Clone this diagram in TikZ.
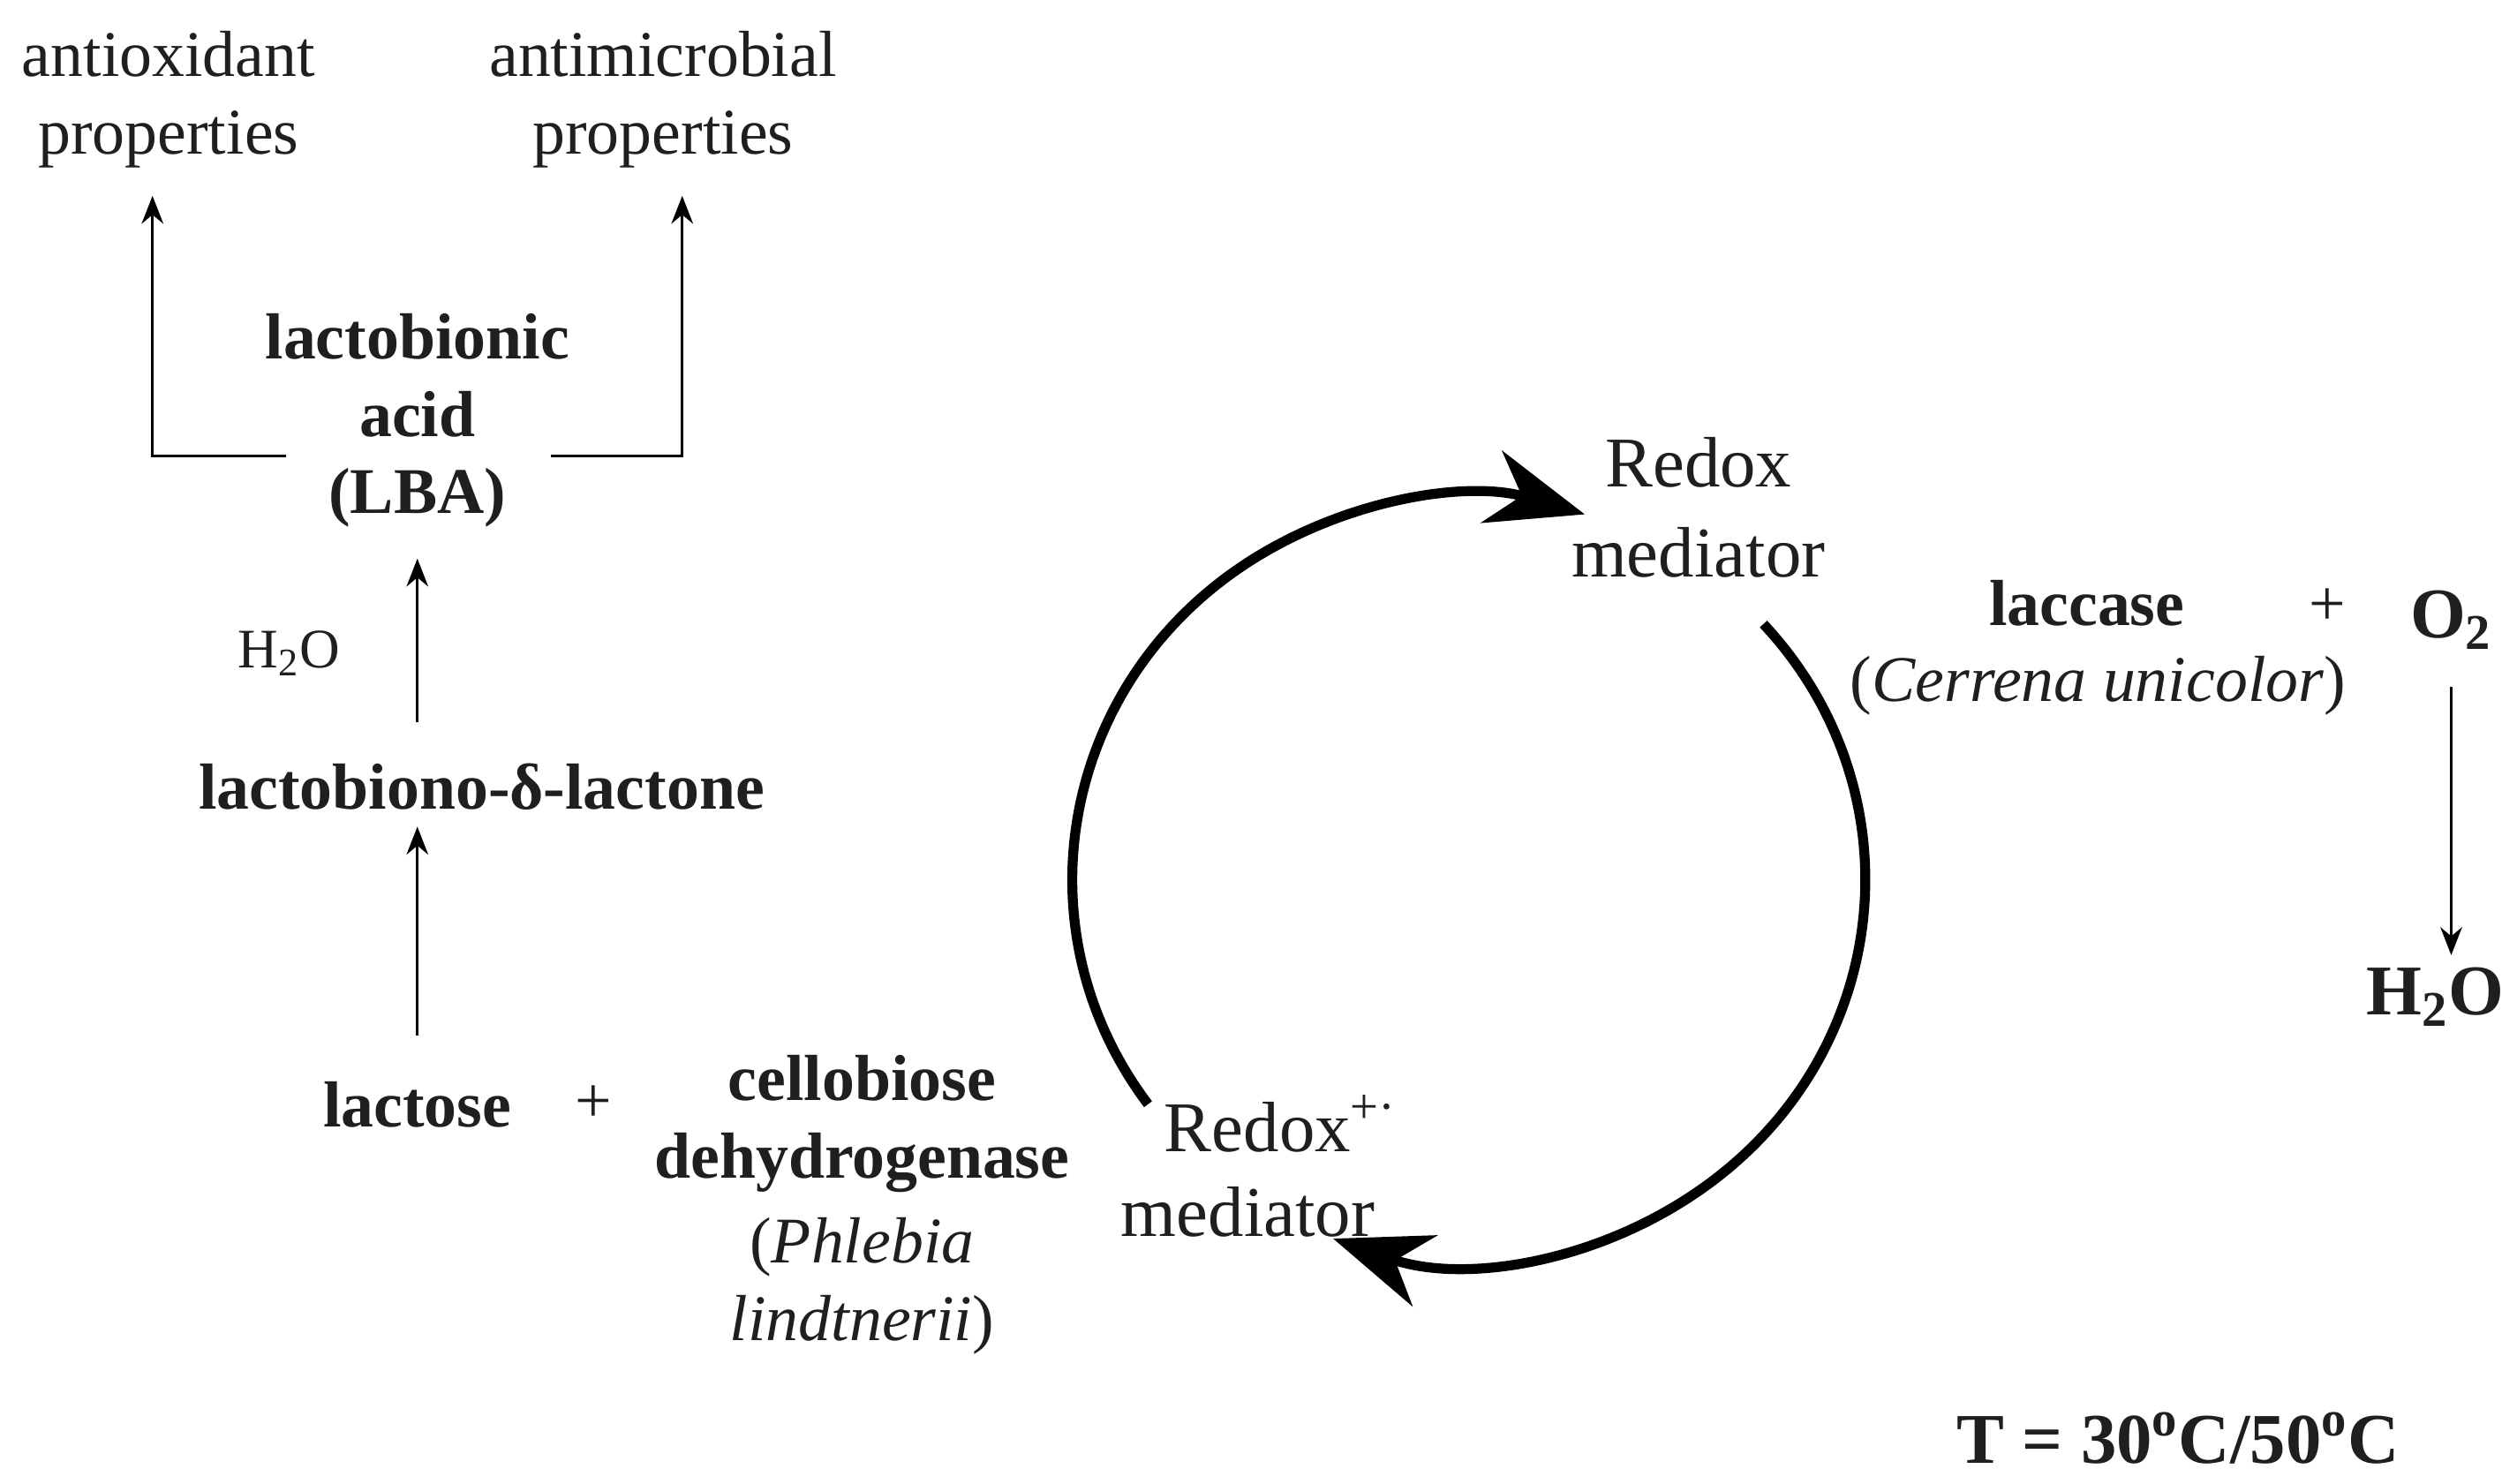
\documentclass[tikz,border=0pt]{standalone}
\usepackage{fontspec}
\setmainfont{Liberation Serif}
\usetikzlibrary{arrows.meta}
\begin{document}
\begin{tikzpicture}[x=0.018183cm,y=-0.018183cm,
  txt/.style={font=\fontsize{21}{25}\selectfont,align=center,inner sep=0pt,text=black!88},
  big/.style={font=\fontsize{23}{29}\selectfont,align=center,inner sep=0pt,text=black!88},
  thin/.style={line width=0.9pt,-{Stealth[length=9pt,width=7pt]}},
  cyc/.style={line width=3.2pt,-{Stealth[length=1.1cm,width=0.85cm]}}]
\useasboundingbox (0,0) rectangle (1568,924);
\node[txt] (ao) at (105,62) {antioxidant\\properties};
\node[txt] (am) at (413,62) {antimicrobial\\properties};
\node[txt,font=\fontsize{21}{25}\selectfont\bfseries] (lba) at (260,262) {lactobionic\\acid\\(LBA)};
\coordinate (l1) at (178,284); \coordinate (l2) at (95,284); \coordinate (l3) at (95,122);
\coordinate (r1) at (343,284); \coordinate (r2) at (425,284); \coordinate (r3) at (425,122);
\draw[thin] (l1) -- (l2) -- (l3);
\draw[thin] (r1) -- (r2) -- (r3);
\node[txt,font=\fontsize{18}{22}\selectfont] (w1) at (180,407) {H\textsubscript{2}O};
\node[txt,font=\fontsize{21}{25}\selectfont\bfseries] (lac) at (300,490) {lactobiono-δ-lactone};
\coordinate (a1) at (260,450); \coordinate (a2) at (260,348);
\draw[thin] (a1) -- (a2);
\coordinate (b1) at (260,645); \coordinate (b2) at (260,515);
\draw[thin] (b1) -- (b2);
\node[txt,font=\fontsize{21}{25}\selectfont\bfseries] (lt) at (260,688) {lactose};
\node[txt] (p1) at (370,688) {+};
\node[txt,font=\fontsize{21}{25}\selectfont\bfseries] (cdh) at (537,700) {cellobiose\\dehydrogenase};
\node[txt] (ph) at (537,801) {(\textit{Phlebia}\\\textit{lindtnerii})};
\node[big,anchor=west] (rm2a) at (725,700) {Redox\textsuperscript{+·}};
\node[big,anchor=west] (rm2b) at (698,755) {mediator};
\node[big] (rm1) at (1058,316) {Redox\\mediator};
\draw[cyc] (915,548) ++(144:247 and 238) arc[start angle=144,end angle=287,x radius=247,y radius=238];
\draw[cyc] (915,548) ++(-42:247 and 238) arc[start angle=-42,end angle=110,x radius=247,y radius=238];
\node[txt,font=\fontsize{21}{25}\selectfont\bfseries] (lc) at (1300,376) {laccase};
\node[txt] (p2) at (1450,378) {+};
\node[txt,font=\fontsize{23}{27}\selectfont\bfseries] (o2) at (1527,386) {O\textsubscript{2}};
\node[txt] (cu) at (1307,427) {(\textit{Cerrena unicolor})};
\node[txt,font=\fontsize{23}{27}\selectfont\bfseries] (w2) at (1517,621) {H\textsubscript{2}O};
\coordinate (c1) at (1527,428); \coordinate (c2) at (1527,595);
\draw[thin] (c1) -- (c2);
\node[txt,font=\fontsize{23}{27}\selectfont\bfseries] (t) at (1357,896) {T = 30\textsuperscript{o}C/50\textsuperscript{o}C};
\end{tikzpicture}
\end{document}
